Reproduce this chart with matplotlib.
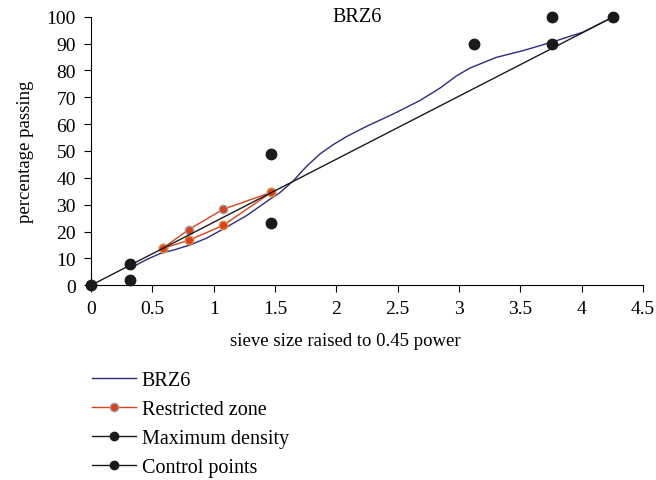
import matplotlib
matplotlib.use('Agg')
import matplotlib.pyplot as plt
import numpy as np
from matplotlib import rc

# BRZ6 gradation curve
brz6_x = [0.318, 0.45, 0.562, 0.68, 0.807, 0.94, 1.076, 1.27, 1.46, 1.54,
          1.649, 1.757, 1.866, 1.975, 2.084, 2.247, 2.464, 2.681, 2.844,
          2.98, 3.089, 3.17, 3.306, 3.523, 3.768, 4.012, 4.26]
brz6_y = [6.3, 9.5, 11.8, 13.2, 15.0, 17.5, 20.9, 26.0, 32.1, 34.5,
          38.9, 44.3, 48.9, 52.4, 55.4, 59.2, 63.8, 68.8, 73.4,
          78.0, 80.9, 82.4, 84.9, 87.4, 90.7, 94.3, 100.0]

# restricted zone (upper and lower boundaries)
rz_x = [0.582, 0.795, 1.077, 1.47]
rz_upper = [13.7, 20.7, 28.3, 34.6]
rz_lower = [13.7, 16.7, 22.3, 34.6]

# maximum density line
md_x = [0.0, 4.26]
md_y = [0.0, 100.0]

# control points
cp_x = [0.0, 0.318, 0.318, 1.47, 1.47, 3.12, 3.76, 3.76, 4.26]
cp_y = [0.0, 2.0, 8.0, 23.0, 49.0, 90.0, 90.0, 100.0, 100.0]

navy = '#2b2d7c'
red = '#d9411e'
dark = '#1a1a1a'

rc('font', **{'family': 'serif', 'serif': ['Liberation Serif'], 'size': 13.5})
rc('xtick', **{'direction': 'out', 'major.size': 5, 'major.pad': 6, 'labelsize': 14})
rc('ytick', **{'direction': 'out', 'major.size': 5, 'major.pad': 6, 'labelsize': 14})

fig = plt.figure(figsize=(6.56, 4.81), dpi=100)
ax = fig.add_axes([0.139, 0.405, 0.841, 0.558])

l1, = ax.plot(brz6_x, brz6_y, color=navy, lw=1.0, label='BRZ6')
l2, = ax.plot(rz_x, rz_upper, color=red, lw=1.0, marker='o', ms=6,
              mfc=red, mec='#a0a0a0', mew=1.0, label='Restricted zone')
ax.plot(rz_x, rz_lower, color=red, lw=1.0, marker='o', ms=6,
        mfc=red, mec='#e08a40', mew=1.0)
l3, = ax.plot(md_x, md_y, color=dark, lw=1.0, marker='o', ms=6,
              label='Maximum density', clip_on=False)
ax.plot(cp_x, cp_y, ls='none', color=dark, marker='o', ms=7.5,
        clip_on=False, zorder=5)
h4, = ax.plot([], [], color=dark, lw=1.0, marker='o', ms=6, label='Control points')

ax.set_xlim(0, 4.5)
ax.set_ylim(0, 100)
ax.set_xticks(np.arange(0, 4.51, 0.5))
ax.set_xticklabels(['0', '0.5', '1', '1.5', '2', '2.5', '3', '3.5', '4', '4.5'])
ax.set_yticks(np.arange(0, 101, 10))
ax.spines['top'].set_visible(False)
ax.spines['right'].set_visible(False)
ax.set_xlabel('sieve size raised to 0.45 power')
ax.xaxis.set_label_coords(0.46, -0.175)
ax.set_ylabel('percentage passing')
ax.yaxis.set_label_coords(-0.103, 0.5)
ax.text(0.482, 1.0, 'BRZ6', transform=ax.transAxes, ha='center', va='center',
        fontsize=14.5)

fig.legend(handles=[l1, l2, l3, h4], loc='upper left',
           bbox_to_anchor=(0.113, 0.265), frameon=False, fontsize=14.5,
           handlelength=2.15, handletextpad=0.3, labelspacing=0.5)

plt.savefig('out.png', dpi=100)
